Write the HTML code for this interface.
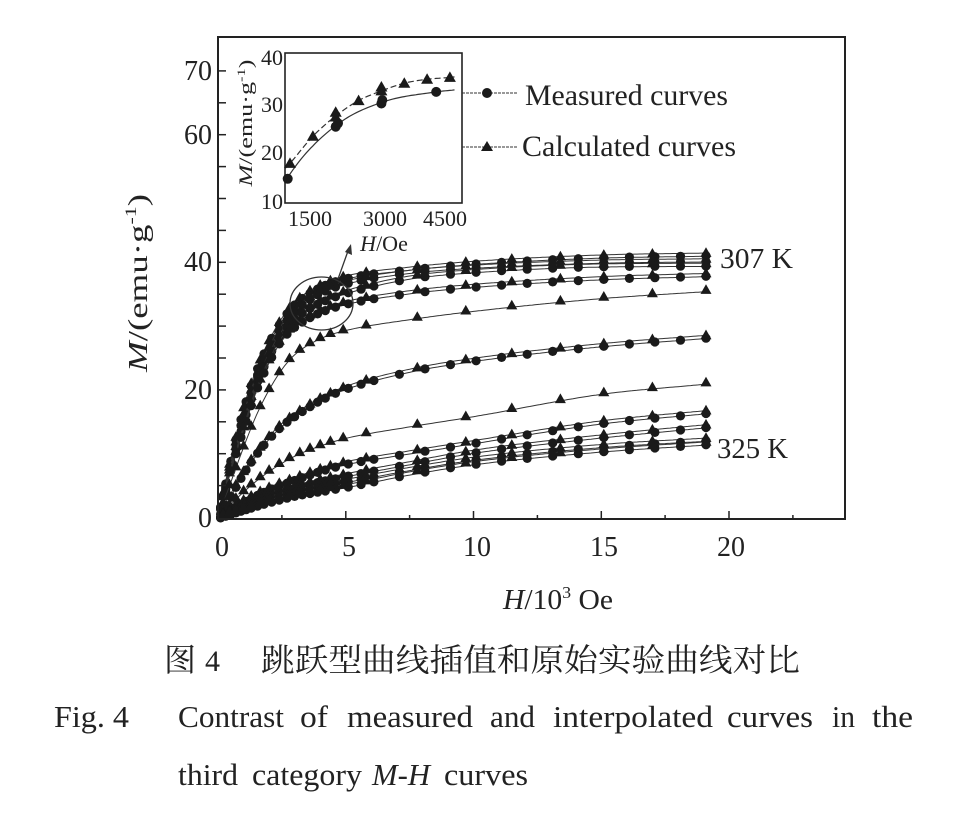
<!DOCTYPE html>
<html><head><meta charset="utf-8"><style>
html,body{margin:0;padding:0;background:#fff;}
svg{display:block;}
text{font-family:"Liberation Serif","Noto Serif CJK SC",serif;fill:#222;}
</style></head><body>
<svg id="s" width="957" height="813" viewBox="0 0 957 813" xmlns="http://www.w3.org/2000/svg">
<rect width="957" height="813" fill="#fff"/>
<g id="curves"></g>
<g id="frame" stroke="#222" fill="none">
  <rect x="218" y="37" width="627" height="482" stroke-width="2"/>
</g>
<g id="ticks" stroke="#222" stroke-width="1.5"></g>

<!-- y tick labels -->
<g font-size="28" text-anchor="end">
  <text x="212" y="80">70</text>
  <text x="212" y="144">60</text>
  <text x="212" y="271">40</text>
  <text x="212" y="399">20</text>
  <text x="212" y="527">0</text>
</g>
<!-- x tick labels -->
<g font-size="28" text-anchor="middle">
  <text x="222" y="556">0</text>
  <text x="349" y="556">5</text>
  <text x="477" y="556">10</text>
  <text x="604" y="556">15</text>
  <text x="731" y="556">20</text>
</g>
<!-- axis titles -->
<text x="503" y="609" font-size="28" textLength="110" lengthAdjust="spacingAndGlyphs"><tspan font-style="italic">H</tspan>/10<tspan font-size="17" dy="-11">3</tspan><tspan dy="11"> Oe</tspan></text>
<g transform="translate(147,283) rotate(-90)">
  <text x="0" y="0" font-size="27" text-anchor="middle" textLength="178" lengthAdjust="spacingAndGlyphs"><tspan font-style="italic">M</tspan>/(emu·g<tspan font-size="16" dy="-11">-1</tspan><tspan dy="11">)</tspan></text>
</g>

<!-- temperature labels -->
<text x="720" y="268" font-size="29" textLength="73" lengthAdjust="spacingAndGlyphs">307 K</text>
<text x="717" y="458" font-size="29" textLength="71" lengthAdjust="spacingAndGlyphs">325 K</text>

<!-- ellipse annotation -->
<ellipse cx="321.5" cy="303.5" rx="31.5" ry="26.5" fill="none" stroke="#333" stroke-width="1.3"/>
<line x1="338" y1="279" x2="348" y2="251" stroke="#333" stroke-width="1.3"/>
<path d="M351,244 L352,255 L345,252 Z" fill="#333"/>

<!-- inset -->
<rect x="285" y="53" width="177" height="150" fill="#fff" stroke="#222" stroke-width="1.6"/>
<g id="inset"></g>
<g font-size="22" text-anchor="end">
  <text x="283" y="65">40</text>
  <text x="283" y="112">30</text>
  <text x="283" y="160">20</text>
  <text x="283" y="209">10</text>
</g>
<g font-size="22" text-anchor="middle">
  <text x="310" y="226">1500</text>
  <text x="385" y="226">3000</text>
  <text x="445" y="226">4500</text>
</g>
<text x="384" y="251" font-size="22" text-anchor="middle"><tspan font-style="italic">H</tspan>/Oe</text>
<g transform="translate(252,123) rotate(-90)">
  <text x="0" y="0" font-size="19" text-anchor="middle" textLength="127" lengthAdjust="spacingAndGlyphs"><tspan font-style="italic">M</tspan>/(emu·g<tspan font-size="12" dy="-7">-1</tspan><tspan dy="7">)</tspan></text>
</g>

<!-- legend -->
<line x1="462" y1="93" x2="517" y2="93" stroke="#333" stroke-width="1" stroke-dasharray="3,1"/>
<circle cx="487" cy="93" r="5" fill="#1a1a1a"/>
<line x1="462" y1="147" x2="517" y2="147" stroke="#333" stroke-width="1" stroke-dasharray="3,1"/>
<path d="M487,141 L493,151 L481,151 Z" fill="#1a1a1a"/>
<text x="525" y="105" font-size="30" textLength="203" lengthAdjust="spacingAndGlyphs">Measured curves</text>
<text x="522" y="156" font-size="30" textLength="214" lengthAdjust="spacingAndGlyphs">Calculated curves</text>

<!-- captions -->
<text x="164" y="671" font-size="32" font-family="'Noto Serif CJK SC',serif">图</text>
<text x="205" y="671" font-size="30">4</text>
<text x="261" y="671" font-size="32" font-family="'Noto Serif CJK SC',serif" textLength="539" lengthAdjust="spacingAndGlyphs">跳跃型曲线插值和原始实验曲线对比</text>
<g font-size="31">
<text x="54" y="727" textLength="75" lengthAdjust="spacingAndGlyphs">Fig. 4</text>
<text x="178" y="727" textLength="106" lengthAdjust="spacingAndGlyphs">Contrast</text>
<text x="300" y="727" textLength="28" lengthAdjust="spacingAndGlyphs">of</text>
<text x="347" y="727" textLength="126" lengthAdjust="spacingAndGlyphs">measured</text>
<text x="490" y="727" textLength="45" lengthAdjust="spacingAndGlyphs">and</text>
<text x="553" y="727" textLength="160" lengthAdjust="spacingAndGlyphs">interpolated</text>
<text x="727" y="727" textLength="86" lengthAdjust="spacingAndGlyphs">curves</text>
<text x="832" y="727" textLength="23" lengthAdjust="spacingAndGlyphs">in</text>
<text x="872" y="727" textLength="41" lengthAdjust="spacingAndGlyphs">the</text>
<text x="178" y="785" textLength="60" lengthAdjust="spacingAndGlyphs">third</text>
<text x="252" y="785" textLength="110" lengthAdjust="spacingAndGlyphs">category</text>
<text x="372" y="785" textLength="58" lengthAdjust="spacingAndGlyphs"><tspan font-style="italic">M</tspan>-<tspan font-style="italic">H</tspan></text>
<text x="444" y="785" textLength="84" lengthAdjust="spacingAndGlyphs">curves</text>
</g>
</svg>
<script>
(function(){
var NS="http://www.w3.org/2000/svg";
function el(tag,attrs,parent){var e=document.createElementNS(NS,tag);for(var k in attrs)e.setAttribute(k,attrs[k]);parent.appendChild(e);return e;}
function interp(pts){
 var xs=pts.map(function(p){return p[0]}),ys=pts.map(function(p){return p[1]}),n=xs.length,d=[],m=new Array(n),i;
 for(i=0;i<n-1;i++)d.push((ys[i+1]-ys[i])/(xs[i+1]-xs[i]));
 m[0]=d[0];m[n-1]=d[n-2];
 for(i=1;i<n-1;i++){m[i]=(d[i-1]*d[i]<=0)?0:(d[i-1]+d[i])/2;}
 for(i=0;i<n-1;i++){if(d[i]===0){m[i]=m[i+1]=0;continue;}var a=m[i]/d[i],b=m[i+1]/d[i],s=a*a+b*b;if(s>9){var t=3/Math.sqrt(s);m[i]=t*a*d[i];m[i+1]=t*b*d[i];}}
 return function(x){var i=0;while(i<n-2&&x>xs[i+1])i++;var h=xs[i+1]-xs[i],t=(x-xs[i])/h,t2=t*t,t3=t2*t;
 return (2*t3-3*t2+1)*ys[i]+(t3-2*t2+t)*h*m[i]+(-2*t3+3*t2)*ys[i+1]+(t3-t2)*h*m[i+1];};
}
function X(H){return 218+H*25.55;}
function Y(M){return 517.5-M*6.38;}
var g=document.getElementById('curves');
var curves=[
 {p:[[0,0],[0.5,9],[1,17],[1.5,23],[2,27.5],[2.5,31],[3,33.5],[4,36.2],[5,37.6],[7.5,39],[10,39.9],[15,40.9],[19.1,41.2]],c:1},
 {p:[[0,0],[0.5,8.5],[1,16],[1.5,22],[2,26.5],[2.5,30],[3,32.5],[4,35.3],[5,36.8],[7.5,38.5],[10,39.3],[15,40.1],[19.1,40.3]],c:1},
 {p:[[0,0],[0.5,8],[1,15],[1.5,21],[2,25.5],[2.5,29],[3,31.3],[4,33.8],[5,35.3],[7.5,37.6],[10,38.6],[15,39.5],[19.1,39.6]],c:1},
 {p:[[0,0],[0.5,7.5],[1,14],[1.5,20],[2,24.5],[2.5,28],[3,30],[4,32.3],[5,33.6],[7.5,35.3],[10,36.3],[15,37.5],[19.1,38]],c:1},
 {p:[[0,0],[0.5,5.5],[1,11],[1.5,16],[2,20],[2.5,23.2],[3,25.5],[4,28],[5,29.3],[7.5,31],[10,32.3],[15,34.3],[19.1,35.4]],c:0},
 {p:[[0,0],[0.5,3.5],[1,7],[1.5,10],[2,12.5],[2.5,14.5],[3,16],[4,18.5],[5,20.3],[7.5,23],[10,24.7],[15,27],[19.1,28.3]],c:1},
 {p:[[0,0],[0.5,2],[1,4],[2,7.2],[3,9.6],[4,11.2],[5,12.4],[7.5,14.2],[10,15.8],[15,19.3],[19.1,20.9]],c:0},
 {p:[[0,0],[1,2.5],[2,4.5],[3,6],[4,7.4],[5,8.5],[7.5,10.2],[10,11.8],[15,14.9],[19.1,16.5]],c:1},
 {p:[[0,0],[1,2],[2,3.6],[3,4.8],[5,6.6],[7.5,8.5],[10,10.3],[15,12.7],[19.1,14.3]],c:1},
 {p:[[0,0],[1,1.6],[2,3],[3,4],[5,5.7],[7.5,7.6],[10,9.2],[15,11.2],[19.1,12.2]],c:1},
 {p:[[0,0],[1,1.3],[2,2.5],[3,3.5],[5,4.9],[7.5,6.9],[10,8.5],[15,10.5],[19.1,11.6]],c:1}
];
var circH=[0.1,0.3,0.5,0.7,0.9,1.1,1.3,1.55,1.8,2.1,2.4,2.7,3.0,3.3,3.6,3.9,4.2,4.6,5.1,5.6,6.1,7.1,8.1,9.1,10.1,11.1,12.1,13.1,14.1,15.1,16.1,17.1,18.1,19.1];
var triH=[0.2,0.45,0.7,1.0,1.3,1.65,2.0,2.4,2.8,3.2,3.6,4.0,4.4,4.9,5.8,7.8,9.7,11.5,13.4,15.1,17.0,19.1];
function tri(x,y,parent,s){s=s||5.5;el('path',{d:'M'+x.toFixed(1)+','+(y-s).toFixed(1)+' L'+(x+s).toFixed(1)+','+(y+s*0.75).toFixed(1)+' L'+(x-s).toFixed(1)+','+(y+s*0.75).toFixed(1)+' Z',fill:'#1a1a1a'},parent);}
curves.forEach(function(cv){
 var f=interp(cv.p);
 var offs=cv.c?[-0.25,0.25]:[0];
 offs.forEach(function(o){
  var pts=[];for(var H=0;H<=19.1001;H+=0.1){pts.push(X(H).toFixed(1)+','+Y(f(H)+o).toFixed(1));}
  el('polyline',{points:pts.join(' '),fill:'none',stroke:'#333','stroke-width':'1'},g);
 });
 if(cv.c){circH.forEach(function(H){el('circle',{cx:X(H).toFixed(1),cy:Y(f(H)-0.2).toFixed(1),r:'4.6',fill:'#1a1a1a'},g);});}
 triH.forEach(function(H){tri(X(H),Y(f(H)+0.3),g);});
});
// ticks
var tg=document.getElementById('ticks');
for(var v=5;v<=70;v+=5){var y=Y(v);el('line',{x1:218,y1:y.toFixed(1),x2:226,y2:y.toFixed(1)},tg);}
for(var h=2.5;h<=22.5;h+=2.5){var x=X(h);var major=(Math.abs(h%5)<0.01);el('line',{x1:x.toFixed(1),y1:519,x2:x.toFixed(1),y2:major?511:515},tg);}
// inset
var ig=document.getElementById('inset');
function xI(H){return 290+(H-1000)*0.0457;}
function yI(M){return 202-(M-10)*4.83;}
var tp=[[900,17],[1000,18.0],[1500,23.6],[2000,27.8],[2500,31.0],[3000,33.0],[3500,34.6],[4000,35.4],[4500,35.8],[4600,35.9]];
var cp=[[900,14],[1000,15.8],[2000,25.8],[3000,30.6],[4200,32.8],[4600,33.2]];
var ft=interp(tp),fc=interp(cp),pt=[],pc=[];
for(var H=900;H<=4600;H+=50){pt.push(xI(H).toFixed(1)+','+yI(ft(H)).toFixed(1));pc.push(xI(H).toFixed(1)+','+yI(fc(H)).toFixed(1));}
el('polyline',{points:pt.join(' '),fill:'none',stroke:'#333','stroke-width':'1.2','stroke-dasharray':'6,3'},ig);
el('polyline',{points:pc.join(' '),fill:'none',stroke:'#333','stroke-width':'1.2'},ig);
[[950,14.8],[2000,25.6],[2050,26.3],[3000,30.4],[3020,31.1],[4200,32.8]].forEach(function(p){el('circle',{cx:xI(p[0]).toFixed(1),cy:yI(p[1]).toFixed(1),r:'5',fill:'#1a1a1a'},ig);});
[[1000,18.0],[1500,23.6],[2000,27.6],[2000,28.6],[2500,31.0],[3000,33.0],[3000,33.8],[3500,34.6],[4000,35.4],[4500,35.8]].forEach(function(p){tri(xI(p[0]),yI(p[1]),ig,6);});
})();
</script>
</body></html>
